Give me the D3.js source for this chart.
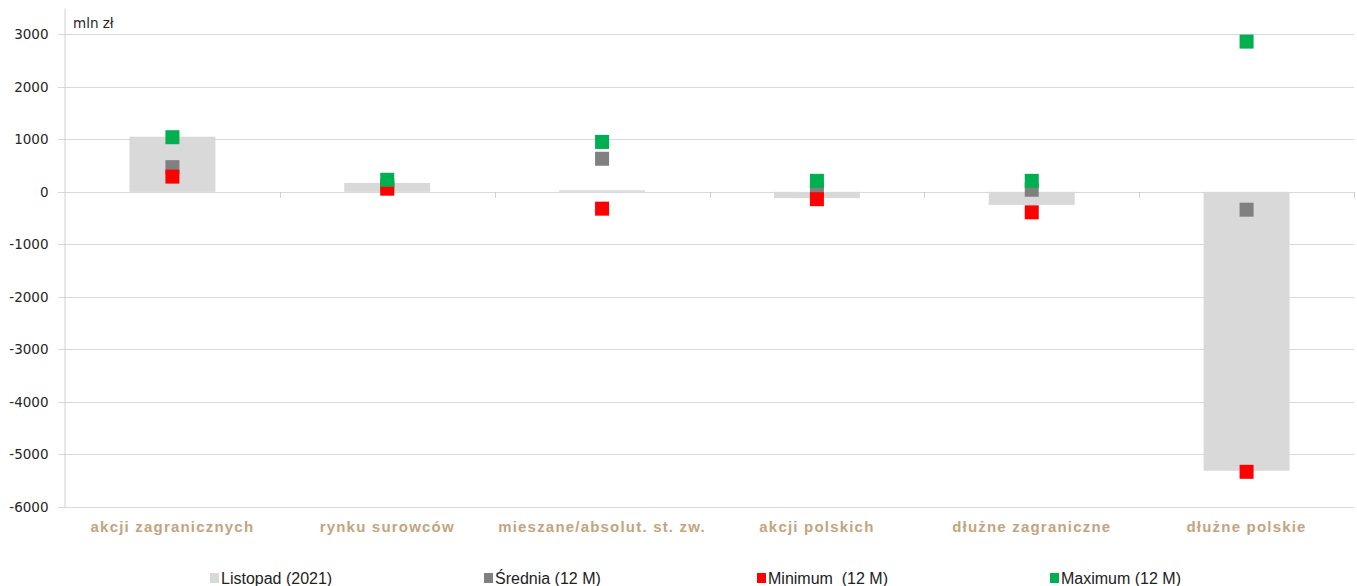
<!DOCTYPE html>
<html>
<head>
<meta charset="utf-8">
<script src="https://cdn.jsdelivr.net/npm/d3@7/dist/d3.min.js"></script>
<style>
  html, body { margin: 0; padding: 0; background: #fff; }
  svg { display: block; }
</style>
</head>
<body>
<svg id="chart" width="1357" height="586"></svg>
<script>
// Net flows by fund category, mln zł
const categories = ["akcji zagranicznych", "rynku surowców", "mieszane/absolut. st. zw.", "akcji polskich", "dłużne zagraniczne", "dłużne polskie"];
const listopad = [1050, 170, 30, -120, -250, -5310];
const srednia = [470, 120, 630, 40, 40, -340];
const minimum = [290, 60, -320, -140, -390, -5330];
const maximum = [1040, 230, 950, 210, 210, 2860];
const yTicks = [3000, 2000, 1000, 0, -1000, -2000, -3000, -4000, -5000, -6000];
const legendLabels = ["Listopad (2021)", "Średnia (12 M)", "Minimum  (12 M)", "Maximum (12 M)"];

const svg = d3.select("#chart");
const plotLeft = 64, plotRight = 1354, plotTop = 8, plotBottom = 507;

const x = d3.scaleBand().domain(categories).range([plotLeft + 1, plotRight]).paddingInner(0).paddingOuter(0);
const y = d3.scaleLinear().domain([-6000, 3500]).range([plotBottom, plotTop]);

// horizontal gridlines
svg.append("g").selectAll("line").data(yTicks).join("line")
  .attr("x1", plotLeft - 6).attr("x2", plotRight)
  .attr("y1", d => Math.round(y(d)) + 0.5).attr("y2", d => Math.round(y(d)) + 0.5)
  .attr("stroke", "#d9d9d9").attr("stroke-width", 1);

// y axis (plain hyphen for negatives)
const yAxis = d3.axisLeft(y).tickValues(yTicks).tickSize(0).tickPadding(16).tickFormat(d => String(d));
const gy = svg.append("g").attr("transform", `translate(${plotLeft + 0.5},0)`).call(yAxis);
gy.select(".domain").attr("stroke", "#d0d0d0");
gy.selectAll("text").attr("font-family", "DejaVu Sans, Verdana, sans-serif").attr("font-size", "13.5px").attr("fill", "#262626");

// category separator ticks on the zero line
const bounds = categories.map(c => x(c)).slice(1).concat([plotRight]);
svg.append("g").selectAll("line").data(bounds).join("line")
  .attr("x1", d => Math.round(d) + 0.5).attr("x2", d => Math.round(d) + 0.5)
  .attr("y1", y(0)).attr("y2", y(0) + 6)
  .attr("stroke", "#d0d0d0");

// bars for the month
const bw = x.bandwidth() * 0.4;
svg.append("g").selectAll("rect").data(categories).join("rect")
  .attr("x", c => x(c) + (x.bandwidth() - bw) / 2)
  .attr("width", bw)
  .attr("y", (c, i) => y(Math.max(0, listopad[i])))
  .attr("height", (c, i) => Math.abs(y(listopad[i]) - y(0)))
  .attr("fill", "#d9d9d9");

// square markers
const ms = 14;
function markers(values, color) {
  svg.append("g").selectAll("rect").data(categories).join("rect")
    .attr("x", c => x(c) + x.bandwidth() / 2 - ms / 2)
    .attr("y", (c, i) => y(values[i]) - ms / 2)
    .attr("width", ms).attr("height", ms)
    .attr("fill", color);
}
markers(srednia, "#808080");
markers(minimum, "#ff0000");
markers(maximum, "#00b050");

// unit label
svg.append("text").attr("x", 73).attr("y", 28)
  .attr("font-family", "DejaVu Sans, Verdana, sans-serif").attr("font-size", "13.5px").attr("fill", "#262626")
  .text("mln zł");

// category labels
svg.append("g").selectAll("text").data(categories).join("text")
  .attr("x", c => x(c) + x.bandwidth() / 2)
  .attr("y", 532)
  .attr("text-anchor", "middle")
  .attr("font-family", "Liberation Sans, Arial, sans-serif")
  .attr("font-weight", "bold").attr("font-size", "15px").attr("letter-spacing", "1.2px")
  .attr("fill", "#c4a47e")
  .text(c => c);

// legend
const legendColors = ["#d9d9d9", "#808080", "#ff0000", "#00b050"];
const legendX = [210, 484, 757, 1050];
const lg = svg.append("g").selectAll("g").data(legendLabels).join("g")
  .attr("transform", (d, i) => `translate(${legendX[i]},0)`);
lg.append("rect").attr("x", 0).attr("y", 573).attr("width", 9).attr("height", 10)
  .attr("fill", (d, i) => legendColors[i]);
lg.append("text").attr("x", 11).attr("y", 584)
  .attr("font-family", "Liberation Sans Narrow, Arial Narrow, sans-serif").attr("font-size", "16px")
  .attr("fill", "#222")
  .style("white-space", "pre")
  .text(d => d);
</script>
</body>
</html>
